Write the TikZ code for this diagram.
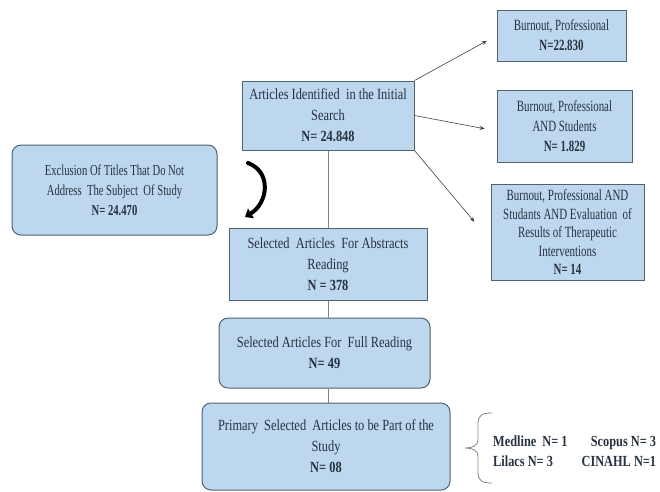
\documentclass[tikz,border=0pt]{standalone}
\usepackage{fontspec}
\setmainfont[FakeStretch=0.8]{Liberation Serif}
\newfontfamily\narrowserif[FakeStretch=0.7]{Liberation Serif}
\usetikzlibrary{arrows.meta,positioning}
\definecolor{boxfill}{HTML}{BDD7EE}
\definecolor{boxline}{HTML}{51616F}
\definecolor{txt}{HTML}{26323F}
\definecolor{conn}{HTML}{7F8488}
\tikzset{
  box/.style={draw=boxline, fill=boxfill, line width=1pt, align=center, text=txt,
    inner sep=0pt, font=\fontsize{15.5}{21}\selectfont},
  rbox/.style={box, rounded corners=9pt},
  sbox/.style={box, font=\narrowserif\fontsize{15.6}{20}\selectfont},
  vline/.style={draw=conn, line width=0.8pt},
  arr/.style={draw=black!75, line width=0.6pt, -{Stealth[length=5pt,width=4pt]}},
}

\begin{document}
\begin{tikzpicture}[x=1pt, y=-1pt]
  \useasboundingbox (0,0) rectangle (660,491);

  % main column
  \node[box, minimum width=172pt, minimum height=69pt] (idn) at (328,115.5)
    {Articles Identified\ \ in the Initial\\ Search\\ \textbf{N= 24.848}};
  \node[box, minimum width=198pt, minimum height=72pt] (abs) at (328,264)
    {Selected\ \ Articles\ \ For Abstracts\\ Reading\\ \textbf{N = 378}};
  \node[rbox, minimum width=211pt, minimum height=70pt] (ful) at (324.5,353)
    {Selected Articles For\ \ Full Reading\\ \textbf{N= 49}};
  \node[rbox, minimum width=248pt, minimum height=87pt] (pri) at (326,446.5)
    {Primary\ \ Selected\ \ Articles to be Part of the\\ Study\\ \textbf{N= 08}};

  % exclusion
  \node[rbox, minimum width=205pt, minimum height=90pt,
    font=\narrowserif\fontsize{15.2}{20}\selectfont] (exc) at (114.5,190)
    {Exclusion Of Titles That Do Not\\ Address\ \ The Subject\ \ Of Study\\ \textbf{N= 24.470}};

  % search terms
  \node[sbox, minimum width=129pt, minimum height=51pt] (bp1) at (561.5,35.5)
    {Burnout, Professional\\ \textbf{N=22.830}};
  \node[sbox, minimum width=135pt, minimum height=72pt] (bp2) at (564.5,126)
    {Burnout, Professional\\ AND Students\\ \textbf{N= 1.829}};
  \node[sbox, minimum width=153pt, minimum height=96pt,
    font=\narrowserif\fontsize{15.6}{18.5}\selectfont] (bp3) at (567.5,232)
    {Burnout, Professional AND\\ Studants AND Evaluation\ \ of\\ Results of Therapeutic\\ Interventions\\ \textbf{N= 14}};

  % databases
  \node[anchor=west, inner sep=0pt, text=txt, font=\fontsize{15.4}{20}\selectfont\bfseries] (src) at (493,452)
    {\begin{tabular}{@{}l@{\hspace{14pt}}r@{}}Medline\ \ N= 1 & Scopus N= 3\\ Lilacs N= 3 & CINAHL N=1\end{tabular}};
  \coordinate (bt) at (492,413);
  \coordinate (bb) at (492,483);

  % curved arrow
  \coordinate (ct) at (248,163);
  \coordinate (ch) at (245,217);

  \path[vline]
    (idn.south) edge (abs.north)
    (abs.south) edge (abs.south |- ful.north)
    (abs.south |- ful.south) edge (abs.south |- pri.north);

  \draw[arr, shorten >=11pt] (idn.north east) -- (bp1.west);
  \draw[arr, shorten >=12pt] (idn.east) -- ([yshift=-5pt]bp2.west);
  \draw[arr, shorten >=25pt] (idn.south east) -- ([yshift=-9pt]bp3.west);

  \draw[line width=4pt, line cap=round, -{Triangle[length=7pt,width=11pt]}]
    (ct) .. controls (272,172) and (268,203) .. (ch);

  \draw[draw=conn, line width=0.8pt]
    (bt) .. controls (482,413) and (478,415) .. (478,424) -- (478,440)
    .. controls (478,446) and (472,448) .. (465,448)
    .. controls (472,448) and (478,450) .. (478,456) -- (478,472)
    .. controls (478,481) and (482,483) .. (bb);
\end{tikzpicture}
\end{document}
